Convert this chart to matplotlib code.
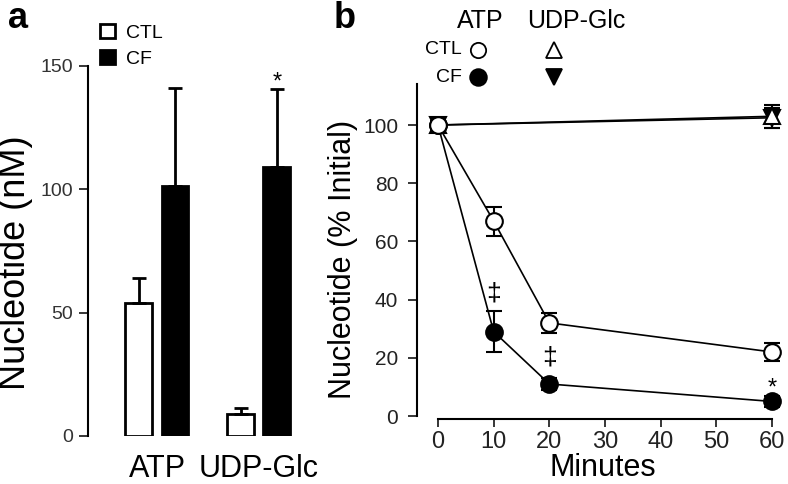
import matplotlib
matplotlib.use('Agg')
import matplotlib.pyplot as plt
from matplotlib.lines import Line2D
import numpy as np

plt.rcParams['font.family'] = ['Liberation Sans', 'DejaVu Sans']

# panel a: nucleotide concentration (nM)
groups = ['ATP', 'UDP-Glc']
ctl_nm = [54, 9]
ctl_nm_err = [10, 2.5]
cf_nm = [101.5, 109]
cf_nm_err = [39.5, 31.5]

# panel b: time course (% initial)
minutes_atp = [0, 10, 20, 60]
ctl_atp = [100, 67, 32, 22]
ctl_atp_err = [1.5, 5, 3.5, 3]
cf_atp = [100, 29, 11, 5]
cf_atp_err = [1.5, 7, 2, 2]

minutes_udp = [0, 60]
ctl_udp = [100, 103]
ctl_udp_err = [1.5, 4]
cf_udp = [100, 102.5]
cf_udp_err = [1.5, 3.5]

W, H = 788, 484
fig = plt.figure(figsize=(W / 100, H / 100), dpi=100)


def px_axes(left, bottom, width, height):
    return fig.add_axes([left / W, bottom / H, width / W, height / H])


# ---------------- panel a ----------------
ax_a = px_axes(88, 48, 222, 370)
x = np.arange(len(groups))
bw, off = 0.265, 0.177
b_ctl = ax_a.bar(x - off, ctl_nm, bw, color='white', edgecolor='black', linewidth=2, label='CTL')
b_cf = ax_a.bar(x + off, cf_nm, bw, color='black', edgecolor='black', linewidth=2, label='CF')
ax_a.errorbar(x - off, ctl_nm, yerr=[np.zeros(len(x)), ctl_nm_err], fmt='none',
              ecolor='black', elinewidth=2, capsize=5, capthick=2)
ax_a.errorbar(x + off, cf_nm, yerr=[np.zeros(len(x)), cf_nm_err], fmt='none',
              ecolor='black', elinewidth=2, capsize=5, capthick=2)
ax_a.text(x[1] + off, cf_nm[1] + cf_nm_err[1] + 0.5, '*', ha='center', va='baseline', fontsize=17)

ax_a.set_xlim(-0.678, 1.504)
ax_a.set_ylim(0, 150)
for s in ['top', 'right', 'bottom']:
    ax_a.spines[s].set_visible(False)
ax_a.spines['left'].set_linewidth(1.5)
ax_a.set_yticks([0, 50, 100, 150])
ax_a.tick_params(axis='y', length=6.5, width=1.1, pad=4, labelsize=14, labelcolor='#333333')
ax_a.set_xticks(x)
ax_a.set_xticklabels(groups)
ax_a.tick_params(axis='x', length=0, pad=13, labelsize=22)

ax_a.legend(handles=[b_ctl, b_cf], loc='upper left', bbox_to_anchor=(100 / W, 1 - 24 / H),
            bbox_transform=fig.transFigure, frameon=False, fontsize=14,
            handlelength=0.78, handleheight=0.72, handletextpad=0.55,
            labelspacing=0.45, borderpad=0, borderaxespad=0)

fig.text(16 / W, 1 - 263 / H, 'Nucleotide (nM)', rotation=90, ha='center', va='center', fontsize=26)
fig.text(18 / W, 1 - 18 / H, 'a', ha='center', va='center', fontsize=26, fontweight='bold')

# ---------------- panel b ----------------
ax_b = px_axes(417, 68, 371, 331.7)
eb = dict(ecolor='black', elinewidth=1.5, capsize=5.5, capthick=1.5, color='black',
          linewidth=1.2, markeredgecolor='black', markeredgewidth=1.5, clip_on=False)
ax_b.errorbar(minutes_udp, cf_udp, yerr=cf_udp_err, fmt='-v', markersize=11,
              markerfacecolor='black', **eb)
ax_b.errorbar(minutes_udp, ctl_udp, yerr=ctl_udp_err, fmt='-^', markersize=11,
              markerfacecolor='white', **eb)
ax_b.errorbar(minutes_atp, cf_atp, yerr=cf_atp_err, fmt='-o', markersize=12,
              markerfacecolor='black', **eb)
ax_b.errorbar(minutes_atp, ctl_atp, yerr=ctl_atp_err, fmt='-o', markersize=12,
              markerfacecolor='white', **eb)

ax_b.text(minutes_atp[1], 42, '\u2021', ha='center', va='center', fontsize=19)
ax_b.text(minutes_atp[2], 20, '\u2021', ha='center', va='center', fontsize=19)
ax_b.text(minutes_atp[3], 7.5, '*', ha='center', va='baseline', fontsize=17)

ax_b.set_xlim(-3.77, 62.87)
ax_b.set_ylim(0, 114)
for s in ['top', 'right']:
    ax_b.spines[s].set_visible(False)
ax_b.spines['left'].set_linewidth(1.5)
ax_b.spines['bottom'].set_linewidth(1.5)
ax_b.spines['bottom'].set_position(('outward', 2))
ax_b.spines['bottom'].set_bounds(0, 60)
ax_b.set_yticks(np.arange(0, 101, 20))
ax_b.set_xticks(np.arange(0, 61, 10))
ax_b.tick_params(axis='y', length=6.5, width=1.1, pad=7, labelsize=15, labelcolor='#222222')
ax_b.tick_params(axis='x', length=6, width=1.1, pad=3, labelsize=17, labelcolor='#222222')
ax_b.set_xlabel('Minutes', fontsize=22, labelpad=0)

fig.text(343 / W, 1 - 259 / H, 'Nucleotide (% Initial)', rotation=90, ha='center', va='center', fontsize=22)
fig.text(345 / W, 1 - 18 / H, 'b', ha='center', va='center', fontsize=26, fontweight='bold')

# symbol key above panel b
fig.text(480 / W, 1 - 21 / H, 'ATP', ha='center', va='center', fontsize=18)
fig.text(576 / W, 1 - 21 / H, 'UDP-Glc', ha='center', va='center', fontsize=18)
fig.text(462 / W, 1 - 50 / H, 'CTL', ha='right', va='center', fontsize=14)
fig.text(462 / W, 1 - 78 / H, 'CF', ha='right', va='center', fontsize=14)
key = [(478, 50, 'o', 'white', 11), (478, 77, 'o', 'black', 12),
       (554, 50, '^', 'white', 12), (554, 77, 'v', 'black', 12)]
for kx, ky, m, fc, ms in key:
    fig.add_artist(Line2D([kx / W], [1 - ky / H], marker=m, markersize=ms, markerfacecolor=fc,
                          markeredgecolor='black', markeredgewidth=1.3, linestyle='none',
                          transform=fig.transFigure))

fig.savefig('out.png', dpi=100)
